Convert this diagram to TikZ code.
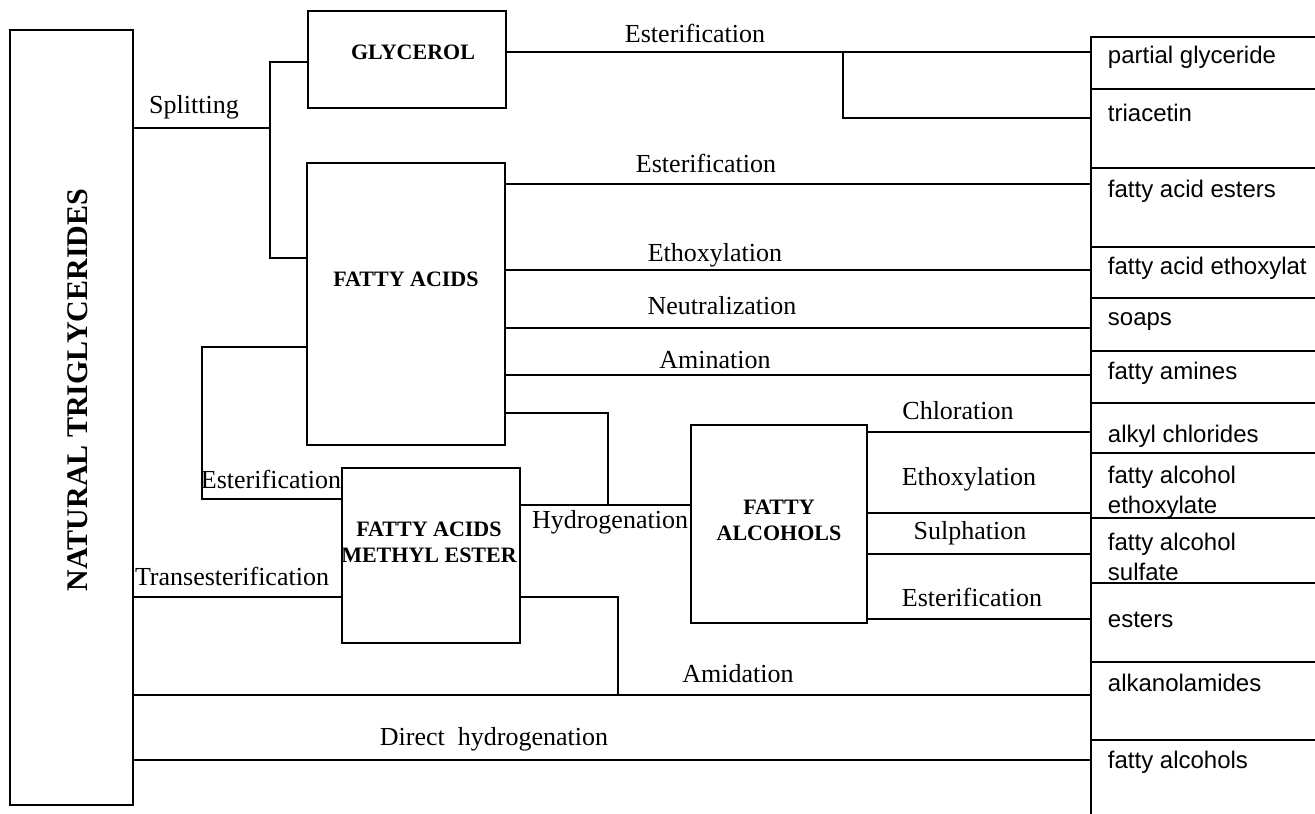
\documentclass[tikz,border=0pt]{standalone}
\usepackage{fontspec}
\setmainfont{Liberation Serif}
\setsansfont{Liberation Sans}
\begin{document}
\begin{tikzpicture}[x=0.5pt,y=-0.5pt,line width=0.9pt]
          \tikzstyle{box}=[draw,shape=rectangle,inner sep=0pt];
          \tikzstyle{title}=[font=\bfseries\fontsize{11}{13}\selectfont,align=center,inner sep=0pt];
          \tikzstyle{lab}=[font=\fontsize{13}{15}\selectfont,inner sep=0pt];
          \tikzstyle{cell}=[draw,shape=rectangle,minimum width=134.5pt,inner sep=0pt];
          \tikzstyle{prod}=[font=\sffamily\fontsize{12}{15}\selectfont,anchor=west,align=left,inner sep=0pt];
          \useasboundingbox (0,0) rectangle (1315,813);
          %\node (name) at (x,y) [option] {text};  x,y on the pixel grid, y down
          %\draw (a.east |- c) -- (b.west |- c);
          % boxes
          \node[box,minimum width=61.5pt,minimum height=387.5pt] (nt) at (71.5,417.5) {};
          \node[title,rotate=90,font=\bfseries\fontsize{15}{17}\selectfont] (ntt) at (78,390) {NATURAL TRIGLYCERIDES};
          \node[box,minimum width=99pt,minimum height=48.5pt] (glyc) at (407,59.5) {};
          \node[title] (glyct) at (413,52) {GLYCEROL};
          \node[box,minimum width=99pt,minimum height=141pt] (fa) at (406,304) {};
          \node[title] (fat) at (406,279) {FATTY ACIDS};
          \node[box,minimum width=89pt,minimum height=87.5pt] (fame) at (431,555.5) {};
          \node[title] (famet) at (429,542) {FATTY ACIDS\\METHYL ESTER};
          \node[box,minimum width=88pt,minimum height=99pt] (fal) at (779,524) {};
          \node[title] (falt) at (779,520) {FATTY\\ALCOHOLS};
          % products
          \node[cell,minimum height=26pt] (pg) at (1225.5,63) {};
          \node[cell,minimum height=39.5pt] (tri) at (1225.5,128.5) {};
          \node[cell,minimum height=39.5pt] (fae) at (1225.5,207.5) {};
          \node[cell,minimum height=25.5pt] (faeth) at (1225.5,272.5) {};
          \node[cell,minimum height=26.5pt] (soap) at (1225.5,324.5) {};
          \node[cell,minimum height=26pt] (fam) at (1225.5,377) {};
          \node[cell,minimum height=25pt] (alc) at (1225.5,428) {};
          \node[cell,minimum height=32.5pt] (fale) at (1225.5,485.5) {};
          \node[cell,minimum height=32.5pt] (fals) at (1225.5,550.5) {};
          \node[cell,minimum height=39.5pt] (est) at (1225.5,622.5) {};
          \node[cell,minimum height=39pt] (alk) at (1225.5,701) {};
          \node[cell,minimum height=45pt] (falc) at (1225.5,785) {};
          \node[prod] (pgt) at (1107,57) {partial glyceride};
          \node[prod] (trit) at (1107,113) {triacetin};
          \node[prod] (faet) at (1107,191) {fatty acid esters};
          \node[prod] (faetht) at (1107,268) {fatty acid ethoxylat};
          \node[prod] (soapt) at (1107,322) {soaps};
          \node[prod] (famt) at (1107,373) {fatty amines};
          \node[prod] (alct) at (1107,436) {alkyl chlorides};
          \node[prod] (falet) at (1107,492) {fatty alcohol\\ethoxylate};
          \node[prod] (falst) at (1107,557) {fatty alcohol\\sulfate};
          \node[prod] (estt) at (1107,620) {esters};
          \node[prod] (alkt) at (1107,683) {alkanolamides};
          \node[prod] (falct) at (1107,762) {fatty alcohols};
          % splitting
          \coordinate (split) at (270,128);
          \coordinate (sg) at (270,62);
          \coordinate (sf) at (270,258);
          \draw (nt.east |- split) -- (split);
          \draw (glyc.west |- sg) -- (sg) -- (sf) -- (fa.west |- sf);
          \node[lab] (lsplit) at (194,107) {Splitting};
          % glycerol
          \coordinate (ge) at (843,52);
          \coordinate (gt) at (843,118);
          \draw (glyc.east |- ge) -- (pg.west |- ge);
          \draw (ge) -- (gt) -- (tri.west |- gt);
          \node[lab] (lest1) at (695,33) {Esterification};
          % fatty acids
          \coordinate (f1) at (700,184);
          \coordinate (f2) at (700,270);
          \coordinate (f3) at (700,328);
          \coordinate (f4) at (700,375);
          \draw (fa.east |- f1) -- (fae.west |- f1);
          \draw (fa.east |- f2) -- (faeth.west |- f2);
          \draw (fa.east |- f3) -- (soap.west |- f3);
          \draw (fa.east |- f4) -- (fam.west |- f4);
          \node[lab] (lest2) at (706,163) {Esterification};
          \node[lab] (lethx) at (715,255) {Ethoxylation};
          \node[lab] (lneut) at (722,306) {Neutralization};
          \node[lab] (lamin) at (715,360) {Amination};
          % hydrogenation
          \coordinate (h1) at (608,413);
          \coordinate (hy) at (608,505);
          \draw (fa.east |- h1) -- (h1) -- (hy);
          \draw (fame.east |- hy) -- (fal.west |- hy);
          \node[lab] (lhyd) at (610,522) {Hydrogenation};
          % methyl ester
          \coordinate (m1) at (202,347);
          \coordinate (m2) at (202,499);
          \draw (fa.west |- m1) -- (m1) -- (m2) -- (fame.west |- m2);
          \node[lab] (lest3) at (271,479) {Esterification};
          \coordinate (t1) at (300,597);
          \draw (nt.east |- t1) -- (fame.west |- t1);
          \node[lab] (ltrans) at (232,576) {Transesterification};
          % amidation, direct hydrogenation
          \coordinate (a1) at (618,597);
          \coordinate (a2) at (618,695);
          \draw (fame.east |- a1) -- (a1) -- (a2);
          \draw (nt.east |- a2) -- (alk.west |- a2);
          \node[lab] (lamid) at (738,674) {Amidation};
          \coordinate (d1) at (500,760);
          \draw (nt.east |- d1) -- (falc.west |- d1);
          \node[lab] (ldir) at (494,739) {Direct\ \ hydrogenation};
          % fatty alcohols
          \coordinate (c1) at (950,432);
          \coordinate (c2) at (950,513);
          \coordinate (c3) at (950,554);
          \coordinate (c4) at (950,619);
          \draw (fal.east |- c1) -- (alc.west |- c1);
          \draw (fal.east |- c2) -- (fale.west |- c2);
          \draw (fal.east |- c3) -- (fals.west |- c3);
          \draw (fal.east |- c4) -- (est.west |- c4);
          \node[lab] (lchl) at (958,411) {Chloration};
          \node[lab] (lethx2) at (969,479) {Ethoxylation};
          \node[lab] (lsulph) at (970,533) {Sulphation};
          \node[lab] (lest4) at (972,597) {Esterification};
      \end{tikzpicture}
\end{document}
